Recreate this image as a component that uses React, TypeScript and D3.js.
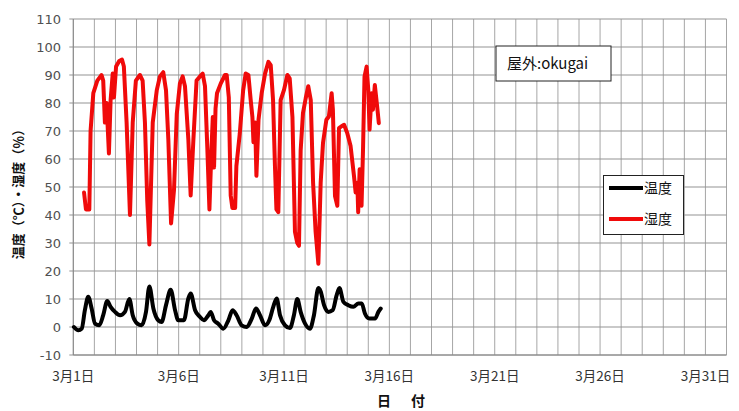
import * as d3 from "d3";

// day offsets from 3/1 0:00 and readings
const tempDays = [
  0.03, 0.24, 0.4, 0.55, 0.71, 0.87, 1.03, 1.23, 1.42, 1.61, 1.77, 1.98, 2.22, 2.45, 2.66, 2.82,
  3.04, 3.24, 3.45, 3.61, 3.8, 4.03, 4.19, 4.4, 4.62, 4.83, 4.98, 5.25, 5.46, 5.57, 5.78, 6.01,
  6.2, 6.41, 6.52, 6.68, 6.88, 7.12, 7.36, 7.56, 7.75, 7.99, 8.23, 8.47, 8.67, 8.86, 9.1, 9.3,
  9.49, 9.65, 9.81, 10.05, 10.28, 10.47, 10.63, 10.79, 11.0, 11.23, 11.42, 11.63, 11.74, 11.9,
  12.1, 12.31, 12.5, 12.63, 12.82, 13.05, 13.29, 13.53, 13.69, 13.84, 14.05, 14.32, 14.48, 14.59,
];
const tempValues = [
  0, -1.2, -0.6, 6, 10.8, 6.6, 1.2, 0.6, 4.2, 9.3, 7.2, 5.4, 4.2, 5.4, 10, 4.2,
  1.2, 0.6, 5.4, 14.5, 6.6, 2.4, 1.8, 7.8, 13.3, 6, 2.4, 2.4, 10.2, 12, 6, 3.6,
  2.4, 4.2, 5.4, 2.4, 1.2, -0.6, 2.4, 6, 4.2, 0.6, 0, 3, 6.6, 4.2, 0.6, 2.4,
  7.2, 10.2, 4.2, 0.6, -0.4, 4.2, 10, 5.4, 1.2, -0.6, 4.2, 13.9, 12.7, 7.8,
  5.4, 6, 11.4, 13.9, 9, 7.8, 7.2, 8.4, 8.4, 4.8, 3, 3, 5.4, 6.6,
];

const humDays = [
  0.51, 0.6, 0.76, 0.82, 0.95, 1.14, 1.34, 1.42, 1.5, 1.58, 1.69, 1.77, 1.87, 1.93, 2.03, 2.18,
  2.31, 2.4, 2.53, 2.69, 2.82, 2.97, 3.16, 3.29, 3.4, 3.51, 3.61, 3.77, 3.96, 4.11, 4.27, 4.4,
  4.51, 4.64, 4.78, 4.91, 5.06, 5.19, 5.3, 5.46, 5.57, 5.7, 5.85, 6.01, 6.14, 6.25, 6.36, 6.46,
  6.55, 6.62, 6.68, 6.75, 6.82, 7.0, 7.2, 7.28, 7.38, 7.47, 7.55, 7.68, 7.74, 7.9, 8.06, 8.18,
  8.31, 8.42, 8.5, 8.55, 8.63, 8.69, 8.79, 8.94, 9.1, 9.26, 9.37, 9.48, 9.57, 9.64, 9.73, 9.84,
  10.0, 10.16, 10.27, 10.4, 10.52, 10.63, 10.71, 10.79, 10.9, 11.03, 11.15, 11.27, 11.38, 11.5,
  11.63, 11.74, 11.85, 12.01, 12.13, 12.26, 12.32, 12.42, 12.53, 12.61, 12.73, 12.85, 13.0,
  13.16, 13.32, 13.4, 13.48, 13.52, 13.59, 13.68, 13.75, 13.82, 13.92, 14.0, 14.06, 14.16,
  14.22, 14.31, 14.42, 14.5,
];
const humValues = [
  48, 42, 42, 70, 83.5, 88, 90, 88, 73, 80, 62, 81, 90.5, 82, 93, 95,
  95.5, 93, 73, 40, 73, 88, 90, 88, 73, 45, 29.5, 73, 84.5, 89.5, 91, 84.5,
  67, 37, 49, 76, 87, 89.5, 86, 67, 47, 67, 88, 89.5, 90.5, 86, 64, 42,
  62, 75, 57, 78, 83.5, 87, 90, 90, 82, 47, 42.5, 42.5, 57.5, 69, 84.5, 90.5,
  90, 81, 75, 66, 73, 54, 74, 83.5, 90.5, 94.7, 93.5, 81, 57.5, 42, 41, 81,
  84.7, 90, 88.8, 75, 34, 30, 29, 63, 76.4, 81.7, 86, 81, 51.5, 34,
  22.6, 51.5, 65.7, 74, 75.2, 83.5, 77.6, 46.8, 43.3, 71, 71.7, 72.2, 69.3,
  64.6, 54, 48, 51.5, 41, 56.3, 43.3, 63.4, 89.4, 93, 84.7, 70.5, 83.5,
  77.6, 86.4, 78.8, 72.8,
];

const yTicks = [-10, 0, 10, 20, 30, 40, 50, 60, 70, 80, 90, 100, 110];
const xTickDays = [1, 6, 11, 16, 21, 26, 31];

const W = 739;
const H = 411;
const left = 73.3;
const right = 726.5;
const top = 19;
const bottom = 355;
const FONT = "'Noto Sans CJK JP', 'DejaVu Sans', sans-serif";

export default function App() {
  const x = d3.scaleLinear().domain([0, 31]).range([left, right]);
  const y = d3.scaleLinear().domain([-10, 110]).range([bottom, top]);

  const temp = tempDays.map((d, i) => [d, tempValues[i]] as [number, number]);
  const hum = humDays.map((d, i) => [d, humValues[i]] as [number, number]);
  const smooth = d3
    .line<[number, number]>()
    .x((d) => x(d[0]))
    .y((d) => y(d[1]))
    .curve(d3.curveMonotoneX);
  const straight = d3
    .line<[number, number]>()
    .x((d) => x(d[0]))
    .y((d) => y(d[1]));

  return (
    <svg
      width={W}
      height={H}
      style={{ position: "absolute", left: 0, top: 0, background: "#fff" }}
      fontFamily={FONT}
    >
      {/* day grid */}
      {d3.range(0, 32).map((d) => (
        <line key={"v" + d} x1={x(d)} x2={x(d)} y1={top} y2={bottom} stroke="#a6a6a6" strokeWidth={1} />
      ))}
      {yTicks.map((v) => (
        <g key={"h" + v}>
          <line x1={left - 4} x2={right} y1={y(v)} y2={y(v)} stroke="#939393" strokeWidth={1} />
          <text x={61} y={y(v)} dy="0.35em" textAnchor="end" fontSize={13} fill="#505050" fontFamily="'DejaVu Sans', sans-serif">
            {v}
          </text>
        </g>
      ))}
      <line x1={left} x2={left} y1={top} y2={bottom} stroke="#888" />
      <line x1={left} x2={right} y1={bottom} y2={bottom} stroke="#888" />

      {xTickDays.map((d) => (
        <text key={"x" + d} x={x(d - 1)} y={381} textAnchor="middle" fontSize={13.5} fill="#333">
          {`3月${d}日`}
        </text>
      ))}
      <text x={384} y={406} textAnchor="middle" fontSize={14} fontWeight="bold" fill="#111">日</text>
      <text x={418} y={406} textAnchor="middle" fontSize={14} fontWeight="bold" fill="#111">付</text>
      <text
        transform="translate(23,191) rotate(-90)"
        textAnchor="middle"
        fontSize={13}
        fontWeight="bold"
        fill="#111"
      >
        温度（℃）・湿度（％）
      </text>

      <path d={straight(hum) ?? ""} fill="none" stroke="#f00a0a" strokeWidth={4} strokeLinejoin="round" strokeLinecap="round" />
      <path d={smooth(temp) ?? ""} fill="none" stroke="#000" strokeWidth={4} strokeLinejoin="round" strokeLinecap="round" />

      {/* title box */}
      <rect x={496} y={46} width={115} height={35} fill="#fff" stroke="#222" strokeWidth={1} />
      <text x={507} y={69} fontSize={15} fill="#111">
        屋外:okugai
      </text>

      {/* legend */}
      <rect x={603.5} y={175.5} width={80} height={59} fill="#fff" stroke="#222" strokeWidth={1} />
      <line x1={609} x2={643} y1={188} y2={188} stroke="#000" strokeWidth={4} />
      <text x={644} y={188} dy="0.35em" fontSize={14} fill="#111">温度</text>
      <line x1={609} x2={643} y1={219} y2={219} stroke="#f00a0a" strokeWidth={4} />
      <text x={644} y={219} dy="0.35em" fontSize={14} fill="#111">湿度</text>
    </svg>
  );
}
